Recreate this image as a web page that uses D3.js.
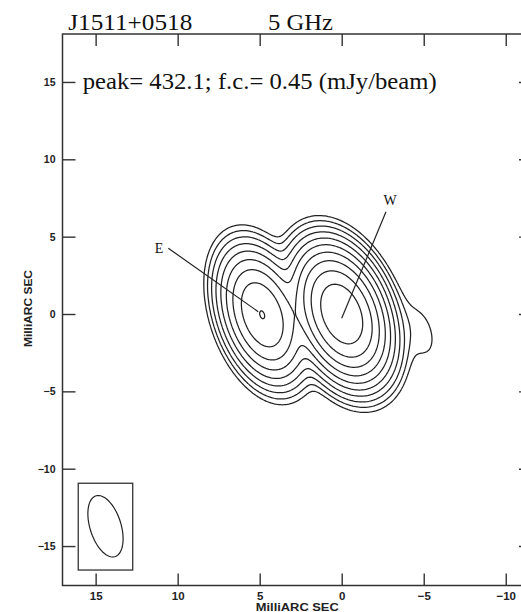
<!DOCTYPE html>
<html>
<head>
<meta charset="utf-8">
<script src="https://cdn.jsdelivr.net/npm/d3@7"></script>
<style>
  body { margin: 0; background: #fff; }
  .tick text { font-family: "Liberation Sans", Arial, sans-serif; font-weight: bold; fill: #222; }
  .tick line { stroke: #333; stroke-width: 1.4; }
</style>
</head>
<body>
<script>
// map extent in milliarcsec (RA offset grows to the left)
var xDomain = [17.02, -11.6],
    yDomain = [18.1, -17.55];
var xTicks = [15, 10, 5, 0, -5, -10];
var yTicks = [15, 10, 5, 0, -5, -10, -15];

// contour levels: f.c. * 2^k  (mJy/beam)
var levels = [0.45, 0.9, 1.8, 3.6, 7.2, 14.4, 28.8, 57.6, 115.2, 230.4];

// gaussian components (sigmas in mas, PA in deg east of north)
var compName = ["W", "E", "ext"];
var compX = [0.0, 4.85, -4.8];
var compY = [0.0, -0.05, -1.15];
var compPeak = [432.1, 116.5, 0.62];
var compMaj = [1.78, 1.80, 1.60];
var compMin = [1.04, 0.97, 0.78];
var compPA = [19, 17, 16];

// restoring beam (FWHM) and its box
var beamX = 14.4, beamY = -13.72, beamMaj = 4.1, beamMin = 1.9, beamPA = 16;
var beamBox = [16.06, 12.74, -10.94, -16.55];

// component labels and leader lines
var labelText = ["E", "W"];
var labelX = [11.13, -2.95],
    labelY = [3.94, 7.05];
var leaderFrom = [[10.57, 4.25], [-2.70, 6.61]];
var leaderTo = [[5.09, 0.15], [0.0, -0.28]];

var width = 521,
    height = 612;

var svg = d3.select("body").append("svg")
    .attr("width", width)
    .attr("height", height);

svg.append("rect")
    .attr("width", width)
    .attr("height", height)
    .attr("fill", "#fff");

var x = d3.scaleLinear().domain(xDomain).range([62.5, 532]);
var y = d3.scaleLinear().domain(yDomain).range([34, 585.5]);

// brightness grid
var step = 0.1;
var nx = Math.ceil((xDomain[0] - xDomain[1]) / step) + 1,
    ny = Math.ceil((yDomain[0] - yDomain[1]) / step) + 1;
var grid = new Array(nx * ny);
for (var j = 0; j < ny; j++) {
    for (var i = 0; i < nx; i++) {
        grid[j * nx + i] = brightness(xDomain[0] - i * step, yDomain[0] - j * step);
    }
}

var contours = d3.contours()
    .size([nx, ny])
    .thresholds(levels)(grid);

var project = d3.geoTransform({
    point: function (gx, gy) {
        this.stream.point(x(xDomain[0] - (gx - 0.5) * step), y(yDomain[0] - (gy - 0.5) * step));
    }
});

svg.append("g")
    .attr("class", "contours")
    .selectAll("path")
    .data(contours)
    .enter().append("path")
    .attr("d", d3.geoPath(project))
    .attr("fill", "none")
    .attr("stroke", "#222")
    .attr("stroke-width", 1.25)
    .attr("stroke-linejoin", "round");

// frame + ticks (inward)
svg.append("g")
    .attr("transform", "translate(" + x.range()[0] + ",0)")
    .call(d3.axisLeft(y).tickValues(yTicks).tickSize(-13).tickPadding(7))
    .call(function (g) { g.select(".domain").remove(); })
    .selectAll("text").style("font-size", "10.5px");

svg.append("g")
    .attr("transform", "translate(" + x.range()[1] + ",0)")
    .call(d3.axisRight(y).tickValues(yTicks).tickSize(-13).tickFormat(""))
    .call(function (g) { g.select(".domain").remove(); });

svg.append("g")
    .attr("transform", "translate(0," + y.range()[0] + ")")
    .call(d3.axisTop(x).tickValues(xTicks).tickSize(-12).tickFormat(""))
    .call(function (g) { g.select(".domain").remove(); });

svg.append("g")
    .attr("transform", "translate(0," + y.range()[1] + ")")
    .call(d3.axisBottom(x).tickValues(xTicks).tickSize(-12))
    .call(function (g) { g.select(".domain").remove(); })
    .selectAll("text")
    .attr("dy", null)
    .attr("y", 14.5)
    .style("font-size", "11.5px");

svg.append("rect")
    .attr("x", x.range()[0])
    .attr("y", y.range()[0])
    .attr("width", x.range()[1] - x.range()[0])
    .attr("height", y.range()[1] - y.range()[0])
    .attr("fill", "none")
    .attr("stroke", "#333")
    .attr("stroke-width", 1.5);

// beam box and ellipse
svg.append("rect")
    .attr("x", x(beamBox[0]))
    .attr("y", y(beamBox[2]))
    .attr("width", x(beamBox[1]) - x(beamBox[0]))
    .attr("height", y(beamBox[3]) - y(beamBox[2]))
    .attr("fill", "none")
    .attr("stroke", "#333")
    .attr("stroke-width", 1.3);

svg.append("path")
    .datum(d3.range(0, 72).map(function (k) { return ellipsePoint(k / 72 * 2 * Math.PI); }))
    .attr("d", d3.line()
        .x(function (d) { return x(d[0]); })
        .y(function (d) { return y(d[1]); })
        .curve(d3.curveLinearClosed))
    .attr("fill", "none")
    .attr("stroke", "#222")
    .attr("stroke-width", 1.2);

// leader lines and labels
svg.append("g")
    .selectAll("line")
    .data(labelText)
    .enter().append("line")
    .attr("x1", function (d, i) { return x(leaderFrom[i][0]); })
    .attr("y1", function (d, i) { return y(leaderFrom[i][1]); })
    .attr("x2", function (d, i) { return x(leaderTo[i][0]); })
    .attr("y2", function (d, i) { return y(leaderTo[i][1]); })
    .attr("stroke", "#222")
    .attr("stroke-width", 1.2);

svg.append("g")
    .selectAll("text")
    .data(labelText)
    .enter().append("text")
    .attr("x", function (d, i) { return x(labelX[i]); })
    .attr("y", function (d, i) { return y(labelY[i]); })
    .attr("text-anchor", "middle")
    .style("font-family", "'Liberation Serif', 'Times New Roman', serif")
    .style("font-size", "14px")
    .style("fill", "#111")
    .text(function (d) { return d; });

// titles
addText("J1511+0518", 68.3, 29.5, 124);
addText("5 GHz", 268, 29.5, 65);
addText("peak= 432.1; f.c.= 0.45 (mJy/beam)", 82.7, 89, 354);

svg.append("text")
    .attr("x", (x.range()[0] + x.range()[1]) / 2)
    .attr("y", 610.5)
    .attr("text-anchor", "middle")
    .attr("textLength", 83)
    .attr("lengthAdjust", "spacingAndGlyphs")
    .style("font-family", "'Liberation Sans', Arial, sans-serif")
    .style("font-weight", "bold")
    .style("font-size", "11.5px")
    .style("fill", "#222")
    .text("MilliARC SEC");

svg.append("text")
    .attr("transform", "translate(32," + 308.5 + ") rotate(-90)")
    .attr("text-anchor", "middle")
    .attr("textLength", 77)
    .attr("lengthAdjust", "spacingAndGlyphs")
    .style("font-family", "'Liberation Sans', Arial, sans-serif")
    .style("font-weight", "bold")
    .style("font-size", "11.5px")
    .style("fill", "#222")
    .text("MilliARC SEC");

/////////////////////////////////////////

function brightness(px, py) {
    var s = 0;
    for (var c = 0; c < compX.length; c++) {
        var t = compPA[c] * Math.PI / 180;
        var dx = px - compX[c], dy = py - compY[c];
        var a = dx * Math.sin(t) + dy * Math.cos(t);
        var b = dx * Math.cos(t) - dy * Math.sin(t);
        s += compPeak[c] * Math.exp(-(a * a / (2 * compMaj[c] * compMaj[c]) + b * b / (2 * compMin[c] * compMin[c])));
    }
    return s;
}

function ellipsePoint(t) {
    var th = beamPA * Math.PI / 180;
    var a = beamMaj / 2 * Math.cos(t), b = beamMin / 2 * Math.sin(t);
    return [beamX + a * Math.sin(th) + b * Math.cos(th), beamY + a * Math.cos(th) - b * Math.sin(th)];
}

function addText(str, px, py, len) {
    svg.append("text")
        .attr("x", px)
        .attr("y", py)
        .attr("textLength", len)
        .attr("lengthAdjust", "spacingAndGlyphs")
        .style("font-family", "'Liberation Serif', 'Times New Roman', serif")
        .style("font-size", "22.5px")
        .style("fill", "#111")
        .text(str);
}
</script>
</body>
</html>
